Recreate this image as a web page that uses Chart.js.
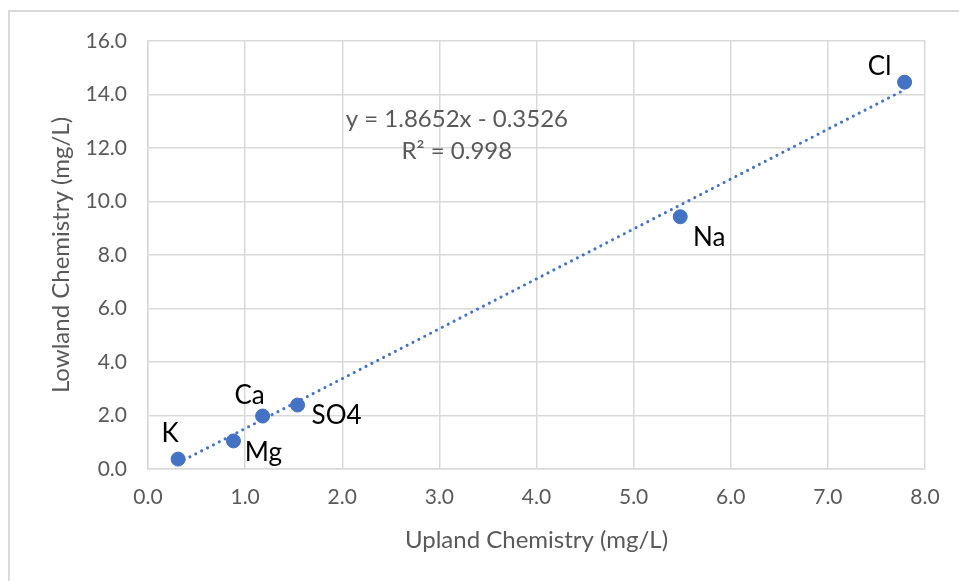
<!DOCTYPE html>
<html>
<head>
<meta charset="utf-8">
<script src="https://cdn.jsdelivr.net/npm/chart.js@4.4.1/dist/chart.umd.min.js"></script>
<style>
  html, body { margin: 0; padding: 0; background: #fff; }
  #wrap { width: 959px; height: 581px; }
</style>
</head>
<body>
<div id="wrap"><canvas id="ionChart"></canvas></div>
<script>
// major ions, upland vs lowland concentrations (mg/L)
const ions = ['K', 'Mg', 'Ca', 'SO4', 'Na', 'Cl'];
const upland = [0.31, 0.88, 1.18, 1.54, 5.48, 7.79];
const lowland = [0.37, 1.05, 1.98, 2.39, 9.43, 14.46];

// linear trendline
const slope = 1.8652;
const intercept = -0.3526;
const rSquared = 0.998;

// where each ion name sits relative to its marker (px)
const labelOffsets = [[-8, -25], [30, 12], [-13, -20], [39, 11], [29, 21], [-25, -16]];

const GRID = '#D9D9D9';
const TEXT = '#595959';
const FONT = 'Lato';

const points = upland.map((x, i) => ({ x: x, y: lowland[i] }));
const xMin = Math.min(...upland);
const xMax = Math.max(...upland);
const trend = [xMin, xMax].map(x => ({ x: x, y: slope * x + intercept }));

// white background + light frame around the whole chart
const frame = {
    id: 'frame',
    beforeDraw(chart) {
        const ctx = chart.ctx;
        ctx.save();
        ctx.fillStyle = '#fff';
        ctx.fillRect(0, 0, chart.width, chart.height);
        ctx.strokeStyle = GRID;
        ctx.lineWidth = 2;
        ctx.strokeRect(9, 11, chart.width + 20, chart.height + 20);
        ctx.restore();
    }
};

// ion names next to the markers, plus the fit equation
const pointLabels = {
    id: 'pointLabels',
    afterDatasetsDraw(chart) {
        const ctx = chart.ctx;
        const meta = chart.getDatasetMeta(1);
        ctx.save();
        ctx.textAlign = 'center';
        ctx.textBaseline = 'middle';
        ctx.font = '26px ' + FONT;
        ctx.fillStyle = '#000';
        meta.data.forEach((pt, i) => {
            ctx.fillText(ions[i], pt.x + labelOffsets[i][0], pt.y + labelOffsets[i][1]);
        });

        const xs = chart.scales.x;
        const ys = chart.scales.y;
        const ex = xs.getPixelForValue(3.18);
        ctx.font = '24px ' + FONT;
        ctx.fillStyle = TEXT;
        const sign = intercept < 0 ? ' - ' : ' + ';
        ctx.fillText('y = ' + slope.toFixed(4) + 'x' + sign + Math.abs(intercept).toFixed(4), ex, ys.getPixelForValue(13.08));
        ctx.fillText('R\u00B2 = ' + rSquared.toFixed(3), ex, ys.getPixelForValue(11.89));
        ctx.restore();
    }
};

new Chart(document.getElementById('ionChart'), {
    type: 'scatter',
    data: {
        datasets: [
            {
                // trendline
                type: 'line',
                data: trend,
                borderColor: '#4472C4',
                borderWidth: 3,
                borderDash: [0.1, 6.5],
                borderCapStyle: 'round',
                pointRadius: 0,
                fill: false,
                order: 1
            },
            {
                data: points,
                backgroundColor: '#4472C4',
                borderColor: '#4472C4',
                pointRadius: 7,
                pointHoverRadius: 7,
                order: 0
            }
        ]
    },
    options: {
        responsive: true,
        maintainAspectRatio: false,
        animation: false,
        events: [],
        layout: {
            padding: { top: 41, right: 34, left: 20, bottom: 0 }
        },
        scales: {
            x: {
                type: 'linear',
                min: 0,
                max: 8,
                afterFit(scale) { scale.height = 112; },
                ticks: {
                    stepSize: 1,
                    color: TEXT,
                    padding: 16,
                    font: { family: FONT, size: 21 },
                    callback: v => v.toFixed(1)
                },
                grid: { color: GRID, lineWidth: 1.5, drawTicks: false },
                border: { color: GRID, width: 1.5 },
                title: {
                    display: true,
                    text: 'Upland Chemistry (mg/L)',
                    color: TEXT,
                    font: { family: FONT, size: 24 },
                    padding: { top: 0, bottom: 26 }
                }
            },
            y: {
                type: 'linear',
                min: 0,
                max: 16,
                afterFit(scale) { scale.width = 128; },
                ticks: {
                    stepSize: 2,
                    color: TEXT,
                    padding: 21,
                    font: { family: FONT, size: 21 },
                    callback: v => v.toFixed(1)
                },
                grid: { color: GRID, lineWidth: 1.5, drawTicks: false },
                border: { color: GRID, width: 1.5 },
                title: {
                    display: true,
                    text: 'Lowland Chemistry (mg/L)',
                    color: TEXT,
                    font: { family: FONT, size: 24 },
                    padding: { top: 27, bottom: 0 }
                }
            }
        },
        plugins: {
            legend: { display: false },
            tooltip: { enabled: false }
        }
    },
    plugins: [frame, pointLabels]
});
</script>
</body>
</html>
